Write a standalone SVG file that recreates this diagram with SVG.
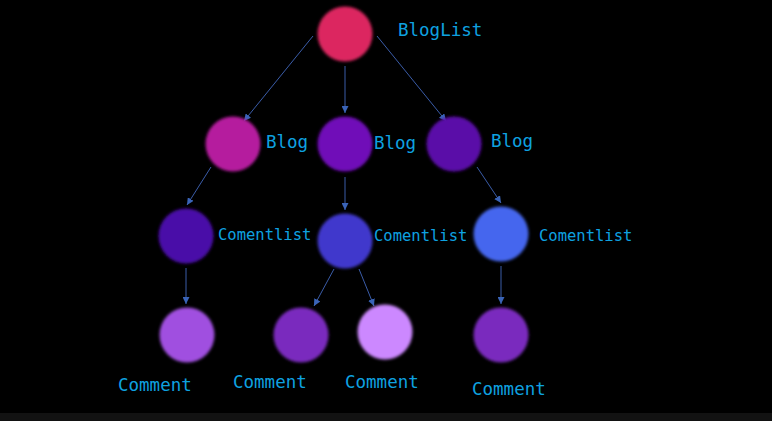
<svg xmlns="http://www.w3.org/2000/svg" width="772" height="421" viewBox="0 0 772 421">
<defs>
<filter id="soft" x="-20%" y="-20%" width="140%" height="140%"><feGaussianBlur stdDeviation="1.5"/></filter>
<marker id="ah" viewBox="0 0 10 10" refX="10" refY="5" markerWidth="7" markerHeight="7" orient="auto" markerUnits="userSpaceOnUse"><path d="M0,0 L10,5 L0,10 z" fill="#3a64b8"/></marker>
</defs>
<style>
.n{filter:url(#soft)}
.t{font-family:"DejaVu Sans Mono","Liberation Mono",monospace;fill:#0ea2e0}
.l{font-size:17.5px}
.c{font-size:15.5px}
.e line{stroke:#3a5ca8;stroke-width:1;marker-end:url(#ah)}
</style>
<rect x="0" y="0" width="772" height="421" fill="#000"/>
<rect x="0" y="413" width="772" height="8" fill="#121212"/>
<g id="edges" class="e">
<line x1="313" y1="36" x2="244" y2="121"/>
<line x1="345" y1="66" x2="345" y2="113"/>
<line x1="377" y1="36" x2="446" y2="121"/>
<line x1="211" y1="167" x2="187" y2="205"/>
<line x1="345" y1="177" x2="345" y2="210"/>
<line x1="477" y1="167" x2="501" y2="203"/>
<line x1="186" y1="268" x2="186" y2="304"/>
<line x1="334" y1="269" x2="314" y2="306"/>
<line x1="359" y1="269" x2="374" y2="306"/>
<line x1="501" y1="266" x2="501" y2="304"/>
</g>
<g id="bloglist"><circle class="n" cx="345" cy="34" r="27.5" fill="#dc2660"/><text class="t l" x="398" y="36">BlogList</text></g>
<g id="blog1"><circle class="n" cx="233" cy="144" r="27.5" fill="#b51c9e"/><text class="t l" x="266" y="148">Blog</text></g>
<g id="blog2"><circle class="n" cx="345" cy="144" r="27.5" fill="#700fb8"/><text class="t l" x="374" y="149">Blog</text></g>
<g id="blog3"><circle class="n" cx="454" cy="144" r="27.5" fill="#5a10a8"/><text class="t l" x="491" y="147">Blog</text></g>
<g id="comentlist1"><circle class="n" cx="186" cy="236" r="27.5" fill="#4a10a8"/><text class="t c" x="218" y="240">Comentlist</text></g>
<g id="comentlist2"><circle class="n" cx="345" cy="241" r="27.5" fill="#4038cc"/><text class="t c" x="374" y="241">Comentlist</text></g>
<g id="comentlist3"><circle class="n" cx="501" cy="234" r="27.5" fill="#4566ee"/><text class="t c" x="539" y="241">Comentlist</text></g>
<g id="comment1"><circle class="n" cx="187" cy="335" r="27.5" fill="#a050e0"/><text class="t l" x="118" y="391">Comment</text></g>
<g id="comment2"><circle class="n" cx="301" cy="335" r="27.5" fill="#7a2cbe"/><text class="t l" x="233" y="388">Comment</text></g>
<g id="comment3"><circle class="n" cx="385" cy="332" r="27.5" fill="#cc88ff"/><text class="t l" x="345" y="388">Comment</text></g>
<g id="comment4"><circle class="n" cx="501" cy="335" r="27.5" fill="#7a2cbe"/><text class="t l" x="472" y="395">Comment</text></g>
</svg>
